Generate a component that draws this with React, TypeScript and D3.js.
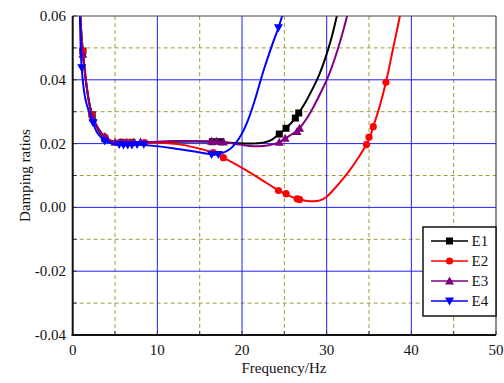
import React from "react";
import * as d3 from "d3";

type P = [number, number];

const xTicks = [0, 10, 20, 30, 40, 50];
const yTicks = [-0.04, -0.02, 0.0, 0.02, 0.04, 0.06];
const xMinor = [5, 15, 25, 35, 45];
const yMinor = [-0.03, -0.01, 0.01, 0.03, 0.05];

const seriesNames = ["E1", "E2", "E3", "E4"];
const seriesColors = ["#000000", "#ff0000", "#800080", "#0000ff"];
const seriesMarkers = ["square", "circle", "triUp", "triDown"];

const e1Curve: P[] = [[0.8, 0.066], [1.2, 0.049], [2.3, 0.029], [3.8, 0.0215], [5, 0.0204], [8, 0.0204], [12, 0.0206], [16, 0.0206], [19, 0.0202], [21, 0.02], [22.5, 0.0203], [23.5, 0.0212], [24.4, 0.023], [25.2, 0.0248], [26.3, 0.028], [26.7, 0.0296], [27.5, 0.033], [28.3, 0.037], [29.1, 0.0415], [29.8, 0.0465], [30.5, 0.0525], [31.2, 0.06], [31.6, 0.065]];
const e1Points: P[] = [[1.2, 0.049], [2.3, 0.029], [3.8, 0.0215], [6, 0.0204], [7, 0.0204], [16.5, 0.0206], [17.5, 0.0206], [24.4, 0.023], [25.2, 0.0248], [26.3, 0.028], [26.7, 0.0296]];

const e2Curve: P[] = [[0.8, 0.066], [1.2, 0.049], [2.3, 0.029], [3.8, 0.022], [5, 0.0203], [8, 0.0203], [11, 0.0202], [13, 0.0196], [15, 0.0184], [16.6, 0.0172], [17.8, 0.0156], [20, 0.0124], [22, 0.0092], [24.3, 0.0053], [25.2, 0.0041], [26.5, 0.0027], [27.5, 0.0021], [28.5, 0.0019], [29.2, 0.0022], [29.9, 0.0031], [30.7, 0.0052], [31.6, 0.0079], [32.6, 0.0112], [33.6, 0.015], [34.7, 0.0197], [35.1, 0.022], [35.5, 0.0253], [36.3, 0.032], [37.0, 0.0392], [37.9, 0.0505], [38.65, 0.06], [39, 0.065]];
const e2Points: P[] = [[1.2, 0.049], [2.25, 0.029], [3.8, 0.022], [5.5, 0.0203], [6.2, 0.0203], [7, 0.0203], [8.5, 0.0203], [16.6, 0.0172], [17.8, 0.0156], [24.3, 0.0053], [25.2, 0.0043], [26.5, 0.0027], [26.8, 0.0025], [34.7, 0.0197], [35.0, 0.022], [35.5, 0.0253], [37.0, 0.0392]];

const e3Curve: P[] = [[0.8, 0.066], [1.2, 0.048], [2.4, 0.028], [3.8, 0.0222], [5, 0.0204], [8, 0.0204], [12, 0.0208], [16.5, 0.0207], [18, 0.0204], [20, 0.0196], [21.5, 0.0192], [23, 0.0194], [24.4, 0.0204], [25.1, 0.0216], [26.5, 0.024], [26.8, 0.0248], [27.6, 0.0277], [28.5, 0.0318], [29.3, 0.036], [30.1, 0.0405], [30.9, 0.0462], [31.7, 0.053], [32.5, 0.061], [32.9, 0.066]];
const e3Points: P[] = [[1.2, 0.048], [2.4, 0.028], [3.8, 0.0222], [5, 0.0204], [5.6, 0.0204], [6.4, 0.0204], [7.2, 0.0204], [8.0, 0.0205], [16.4, 0.0207], [17.0, 0.0207], [17.8, 0.0205], [24.4, 0.0204], [25.1, 0.0217], [26.5, 0.0238], [26.8, 0.0248]];

const e4Curve: P[] = [[0.85, 0.062], [1.06, 0.0438], [1.5, 0.034], [2.37, 0.0267], [3, 0.023], [3.8, 0.021], [5, 0.0198], [8, 0.0196], [12, 0.0185], [15, 0.0172], [16.5, 0.0166], [17.5, 0.0169], [18.6, 0.0183], [19.3, 0.0203], [20, 0.0232], [20.7, 0.0273], [21.5, 0.0335], [22.5, 0.0425], [23.5, 0.0505], [24.3, 0.0563], [24.8, 0.0605], [25.1, 0.063]];
const e4Points: P[] = [[1.06, 0.0438], [2.4, 0.0265], [3.8, 0.0208], [5.5, 0.0197], [6.0, 0.0196], [6.5, 0.0196], [7.0, 0.0196], [7.6, 0.0197], [8.4, 0.0198], [16.4, 0.0166], [17.2, 0.0166], [24.3, 0.0563]];

const curves = [e1Curve, e2Curve, e3Curve, e4Curve];
const points = [e1Points, e2Points, e3Points, e4Points];

const W = 504;
const H = 383;
const L = 72.7, R = 496, T = 16, B = 335;

function Marker({ kind, x, y, color }: { kind: string; x: number; y: number; color: string }) {
  if (kind === "square") return <rect x={x - 3.5} y={y - 3.5} width={7} height={7} fill={color} />;
  if (kind === "circle") return <circle cx={x} cy={y} r={3.6} fill={color} />;
  if (kind === "triUp") return <path d={`M${x},${y - 4.5}L${x + 4.5},${y + 3.5}L${x - 4.5},${y + 3.5}Z`} fill={color} />;
  return <path d={`M${x},${y + 4.5}L${x + 4.5},${y - 3.5}L${x - 4.5},${y - 3.5}Z`} fill={color} />;
}

export default function App() {
  const x = d3.scaleLinear().domain([0, 50]).range([L, R]);
  const y = d3.scaleLinear().domain([-0.04, 0.06]).range([B, T]);
  const line = d3.line<P>().x(d => x(d[0])).y(d => y(d[1])).curve(d3.curveCatmullRom.alpha(0.5));
  const font = "'Liberation Serif', 'Times New Roman', Times, serif";
  const legX = 423, legY = 227, legW = 73, legH = 89;
  const ts = { fontFamily: font, fontSize: "15px" };

  return (
    <svg width={W} height={H} style={{ position: "absolute", left: 0, top: 0, background: "#fff", fontFamily: font }}>
      <defs>
        <clipPath id="plot"><rect x={L} y={T} width={R - L} height={B - T} /></clipPath>
      </defs>
      {xMinor.map(v => <line key={"xm" + v} x1={x(v)} x2={x(v)} y1={T} y2={B} stroke="#a09a3a" strokeWidth={1} strokeDasharray="4,3" />)}
      {yMinor.map(v => <line key={"ym" + v} x1={L} x2={R} y1={y(v)} y2={y(v)} stroke="#a09a3a" strokeWidth={1} strokeDasharray="4,3" />)}
      {xTicks.slice(1, -1).map(v => <line key={"xg" + v} x1={x(v)} x2={x(v)} y1={T} y2={B} stroke="#2020ff" strokeWidth={1} />)}
      {yTicks.slice(1, -1).map(v => <line key={"yg" + v} x1={L} x2={R} y1={y(v)} y2={y(v)} stroke="#2020ff" strokeWidth={1} />)}
      {xMinor.concat(xTicks).map(v => <line key={"xt" + v} x1={x(v)} x2={x(v)} y1={B} y2={B - 4} stroke="#333" strokeWidth={1} />)}
      {yMinor.concat(yTicks).map(v => <line key={"yt" + v} x1={L} x2={L + 4} y1={y(v)} y2={y(v)} stroke="#333" strokeWidth={1} />)}
      <g clipPath="url(#plot)">
        {curves.map((c, i) => (
          <g key={"s" + i}>
            <path d={line(c) || ""} fill="none" stroke={seriesColors[i]} strokeWidth={2} />
            {points[i].map((p, j) => <Marker key={j} kind={seriesMarkers[i]} x={x(p[0])} y={y(p[1])} color={seriesColors[i]} />)}
          </g>
        ))}
      </g>
      <line x1={L} x2={R} y1={T} y2={T} stroke="#444" strokeWidth={1.2} />
      <line x1={R} x2={R} y1={T} y2={B} stroke="#444" strokeWidth={1.2} />
      <line x1={L} x2={L} y1={T} y2={B + 1} stroke="#111" strokeWidth={2} />
      <line x1={L - 1} x2={R} y1={B} y2={B} stroke="#111" strokeWidth={2} />
      {xTicks.map(v => <text key={"xl" + v} x={x(v)} y={355} textAnchor="middle" style={ts} fill="#111">{v}</text>)}
      {yTicks.map(v => <text key={"yl" + v} x={66} y={y(v) + 5} textAnchor="end" style={ts} fill="#111">{d3.format(".2f")(v).replace("−", "-")}</text>)}
      <text x={284} y={373} textAnchor="middle" style={ts} fill="#111">Frequency/Hz</text>
      <text transform={`translate(30,${(T + B) / 2}) rotate(-90)`} textAnchor="middle" style={ts} fill="#111">Damping ratios</text>
      <rect x={legX} y={legY} width={legW} height={legH} fill="#fff" stroke="#111" strokeWidth={1.5} />
      {seriesNames.map((n, i) => {
        const yy = legY + 14 + i * 20;
        return (
          <g key={"lg" + n}>
            <line x1={431} x2={468} y1={yy} y2={yy} stroke={seriesColors[i]} strokeWidth={1.5} />
            <Marker kind={seriesMarkers[i]} x={449.5} y={yy} color={seriesColors[i]} />
            <text x={471.5} y={yy + 5} style={ts} fill="#111">{n}</text>
          </g>
        );
      })}
    </svg>
  );
}
